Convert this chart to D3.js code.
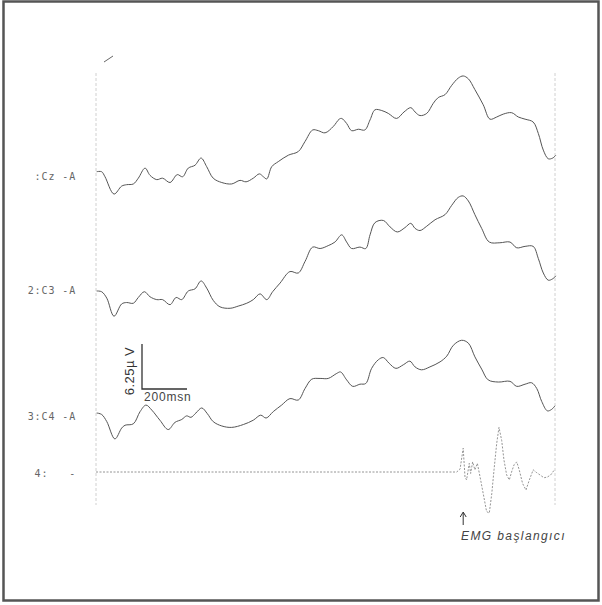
<!DOCTYPE html>
<html>
<head>
<meta charset="utf-8">
<script src="https://cdn.jsdelivr.net/npm/d3@7"></script>
<style>
  body { margin: 0; background: #fff; }
  text { white-space: pre; }
</style>
</head>
<body>
<script>
// EEG averaged traces, time in ms from epoch start, amplitude in µV
let labelText = [':Cz -A', '2:C3 -A', '3:C4 -A', '4:   -']

let czData = [[3,-0.1],[25,-0.1],[40,-0.8],[80,-3.2],[114,-2.1],[136,-1.9],[166,-1.8],[188,-1.0],[218,0.4],[240,-0.6],
  [270,-1.2],[296,-1.0],[329,-1.6],[361,-0.5],[385,-0.8],[410,0.4],[440,0.8],[467,1.8],[492,0.6],[521,-1.0],
  [559,-1.6],[603,-1.8],[640,-1.3],[667,-1.5],[699,-1.0],[726,-0.4],[744,-0.8],[759,-1.1],[781,0.6],[810,1.3],
  [855,2.2],[899,2.7],[929,4.1],[963,5.7],[988,5.6],[1018,5.3],[1055,6.2],[1081,7.2],[1092,7.3],[1114,6.6],
  [1136,5.6],[1166,5.8],[1195,5.7],[1218,7.1],[1240,8.5],[1270,8.4],[1299,8.0],[1336,7.3],[1369,8.2],[1399,8.8],
  [1418,8.2],[1440,7.7],[1470,8.0],[1499,9.4],[1521,10.2],[1551,10.6],[1581,11.9],[1610,12.9],[1632,13.2],[1655,12.8],
  [1684,11.3],[1721,9.2],[1751,7.2],[1781,7.5],[1810,7.9],[1847,8.1],[1877,7.5],[1907,7.2],[1943,6.8],[1966,5.2],
  [1988,2.9],[2010,1.7],[2030,1.8],[2044,2.2]]

let c3Data = [[3,0],[25,-0.1],[48,-1.0],[80,-3.5],[114,-1.8],[136,-1.6],[166,-1.7],[188,-0.9],[215,-0.1],[240,-0.8],
  [270,-1.2],[296,-1.2],[329,-1.9],[356,-0.9],[381,-1.2],[410,0.0],[440,0.3],[467,1.4],[492,0.4],[521,-1.3],
  [551,-2.2],[596,-2.4],[632,-2.1],[670,-1.7],[699,-1.2],[729,-0.4],[759,-1.2],[785,-0.1],[818,1.1],[862,2.7],
  [899,2.5],[929,4.1],[963,6.1],[996,5.9],[1032,6.3],[1062,6.8],[1092,7.8],[1114,6.8],[1136,5.9],[1173,6.1],
  [1199,5.9],[1218,7.8],[1240,9.5],[1277,9.8],[1307,8.9],[1339,8.2],[1373,8.8],[1399,9.4],[1418,8.7],[1440,8.4],
  [1470,9.0],[1507,9.9],[1551,10.6],[1581,11.9],[1610,13.0],[1632,13.2],[1655,12.5],[1684,10.6],[1714,8.7],[1748,6.8],
  [1795,6.7],[1840,6.8],[1870,6.0],[1907,6.2],[1943,6.2],[1966,4.5],[1988,2.5],[2010,1.5],[2030,1.7],[2044,2.1]]

let c4Data = [[3,0],[25,-0.2],[48,-1.2],[84,-3.6],[114,-2.1],[129,-1.7],[166,-1.5],[196,0.2],[222,1.1],[248,0.4],
  [284,-1.0],[321,-2.3],[351,-1.3],[381,-0.9],[403,-0.4],[422,-0.6],[444,0.0],[470,0.7],[495,-0.1],[521,-1.2],
  [559,-1.8],[603,-2.0],[655,-1.6],[699,-1.0],[732,-0.3],[756,-0.7],[788,0.2],[825,1.1],[862,2.0],[899,1.8],
  [929,3.4],[959,4.7],[996,4.8],[1032,4.8],[1070,5.5],[1087,5.7],[1114,4.6],[1141,3.7],[1173,4.0],[1199,4.1],
  [1225,6.2],[1255,7.4],[1277,7.7],[1303,6.9],[1333,6.2],[1366,6.7],[1395,7.2],[1418,6.4],[1447,6.0],[1484,6.4],
  [1529,7.1],[1559,7.9],[1588,9.4],[1625,10.1],[1655,9.7],[1684,7.8],[1714,6.1],[1743,4.6],[1788,4.3],[1840,4.4],
  [1870,3.7],[1907,4.0],[1936,4.2],[1959,3.4],[1981,1.6],[2006,0.3],[2025,0.5],[2040,1.0]]

let emgData = [[0,0],[1595,0],[1603,0.0],[1618,0.4],[1632,3.3],[1640,-0.7],[1647,-1.1],[1659,1.2],[1665,-0.2],[1674,1.4],
  [1684,0.3],[1695,1.2],[1707,-0.7],[1721,-3.0],[1736,-5.5],[1748,-5.7],[1759,-3.0],[1769,0.3],[1781,4.0],[1791,6.2],
  [1803,4.4],[1813,1.7],[1825,-0.4],[1837,-1.1],[1847,0.0],[1858,1.0],[1870,1.4],[1881,0.3],[1896,-1.6],[1911,-2.5],
  [1926,-1.1],[1943,0.3],[1959,-0.1],[1973,-0.4],[1991,-0.8],[2006,-0.7],[2021,-0.4],[2035,0.2]]

let emgOnset = 1632
let scaleBarMs = 200
let scaleBarUv = 6.25

// layout
let m = { width: 602, height: 605, left: 96, right: 555, top: 73, bottom: 505 }
let baselines = [171, 291, 413, 472]
let labelY = [176, 290, 416, 473]
let pxPerUv = 45 / 6.25

let svg = d3.select('body').append('svg')
  .attr('width', m.width)
  .attr('height', m.height)

// scanned page frame
svg.append('rect')
  .attr('x', 3.5).attr('y', 1.5)
  .attr('width', 595).attr('height', 599)
  .attr('fill', 'none')
  .attr('stroke', '#555')
  .attr('stroke-width', 2.5)

let xScale = d3.scaleLinear().domain([0, 2040]).range([m.left, m.right])

// start / end markers of the epoch
svg.selectAll('line.edge')
  .data([0, 2040])
  .enter().append('line')
    .attr('class', 'edge')
    .attr('x1', d => xScale(d)).attr('x2', d => xScale(d))
    .attr('y1', m.top).attr('y2', m.bottom)
    .attr('stroke', '#c4c4c4')
    .attr('stroke-width', 0.8)
    .attr('stroke-dasharray', '3,2')

// little pen mark top left
svg.append('line')
  .attr('x1', 104).attr('y1', 62).attr('x2', 113).attr('y2', 56)
  .attr('stroke', '#666').attr('stroke-width', 1)

let series = [czData, c3Data, c4Data, emgData]

series.forEach(function(data, i) {
  let yScale = d3.scaleLinear()
    .domain([0, 10])
    .range([baselines[i], baselines[i] - 10 * pxPerUv])

  let line = d3.line()
    .x(d => xScale(d[0]))
    .y(d => yScale(d[1]))
    .curve(i < 3 ? d3.curveCatmullRom.alpha(0.5) : d3.curveLinear)

  svg.append('path')
    .datum(data)
    .attr('d', line)
    .attr('fill', 'none')
    .attr('stroke', i < 3 ? '#555' : '#888')
    .attr('stroke-width', i < 3 ? 1 : 0.9)
    .attr('stroke-dasharray', i < 3 ? null : '2,1.5')

  // channel label
  svg.append('text')
    .attr('x', 76 - labelText[i].length * 6.9)
    .attr('y', labelY[i] + 3.5)
    .attr('font-family', 'DejaVu Sans Mono')
    .attr('font-size', 10)
    .attr('letter-spacing', 0.9)
    .attr('fill', '#666')
    .text(labelText[i])
})

// calibration bar
let barX = 142, barY = 389
svg.append('path')
  .attr('d', 'M' + barX + ',' + (barY - scaleBarUv * pxPerUv) + 'V' + barY +
    'H' + (barX + (xScale(scaleBarMs) - xScale(0))))
  .attr('fill', 'none')
  .attr('stroke', '#333')
  .attr('stroke-width', 1.3)

svg.append('text')
  .attr('transform', 'translate(134,371) rotate(-90)')
  .attr('text-anchor', 'middle')
  .attr('font-family', 'Liberation Sans')
  .attr('font-size', 13)
  .attr('letter-spacing', 0.5)
  .attr('fill', '#333')
  .text(scaleBarUv + '\u00b5 V')

svg.append('text')
  .attr('x', 144).attr('y', 401)
  .attr('font-family', 'Liberation Sans')
  .attr('font-size', 12)
  .attr('letter-spacing', 0.8)
  .attr('fill', '#444')
  .text(scaleBarMs + 'msn')

// EMG onset arrow
let ax = xScale(emgOnset)
svg.append('line')
  .attr('x1', ax).attr('x2', ax).attr('y1', 525).attr('y2', 513)
  .attr('stroke', '#333').attr('stroke-width', 1)
svg.append('path')
  .attr('d', 'M' + (ax - 3) + ',517L' + ax + ',512L' + (ax + 3) + ',517')
  .attr('fill', 'none').attr('stroke', '#333').attr('stroke-width', 1)

svg.append('text')
  .attr('x', 461).attr('y', 540)
  .attr('font-family', 'Liberation Sans')
  .attr('font-style', 'italic')
  .attr('font-size', 12)
  .attr('letter-spacing', 1.4)
  .attr('fill', '#444')
  .text('EMG başlangıcı')
</script>
</body>
</html>
